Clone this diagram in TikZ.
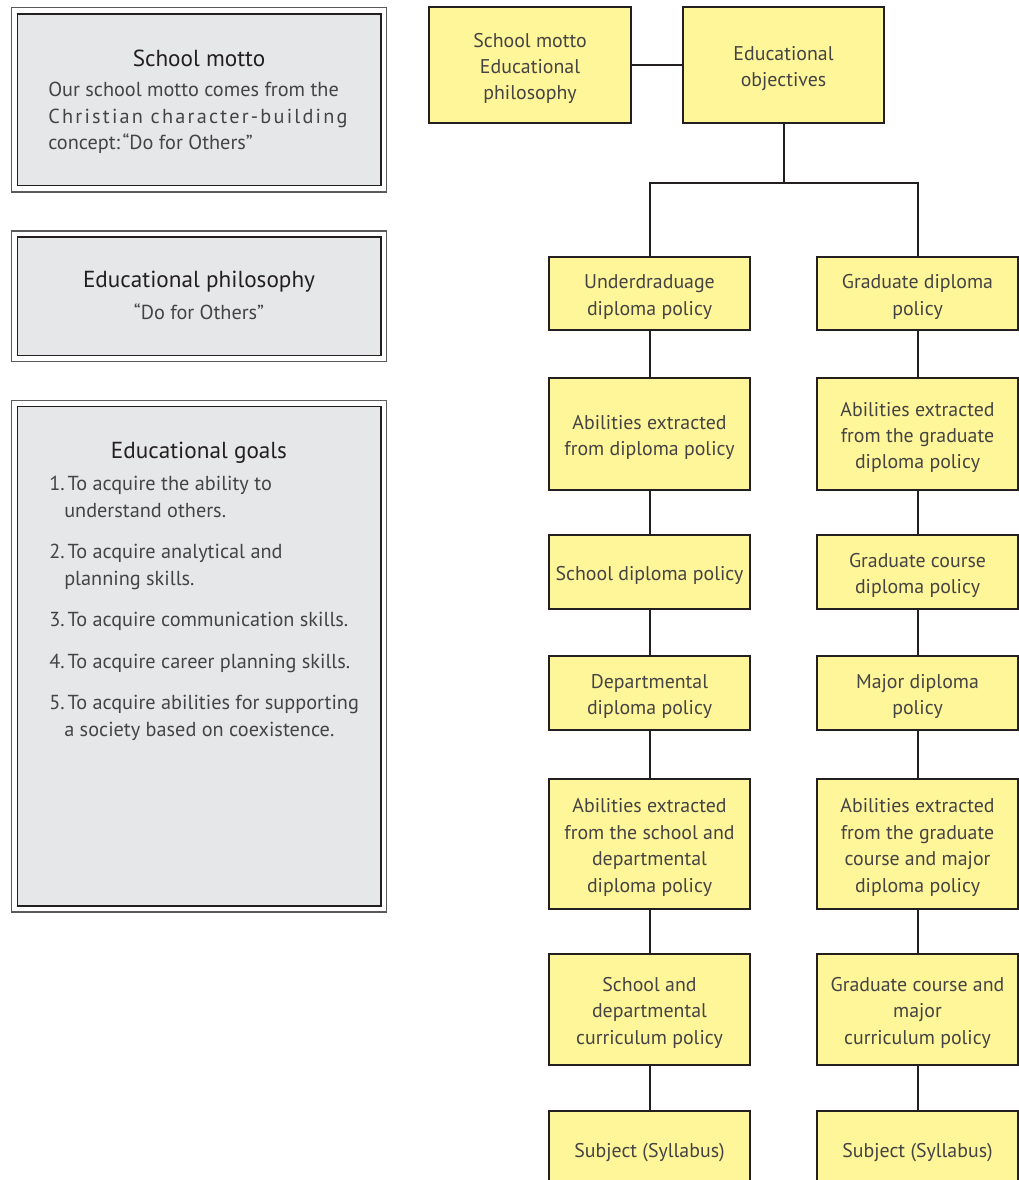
\documentclass[tikz,border=0pt]{standalone}
\usepackage{fontspec}
\setmainfont{PT Sans}
\usetikzlibrary{calc}
\definecolor{yfill}{HTML}{FFF599}
\definecolor{gfill}{HTML}{E6E7E8}
\definecolor{edge}{HTML}{231F20}
\definecolor{txt}{HTML}{444444}
\definecolor{ttl}{HTML}{231F20}
\definecolor{outerg}{HTML}{5A5A5A}
\newcommand\ytext[1]{\raisebox{-2.4pt}[\height][\depth]{\begin{tabular}{@{}c@{}}#1\end{tabular}}}
\begin{document}
\begin{tikzpicture}[x=0.75pt,y=-0.75pt,
  sz/.style 2 args={minimum width={#1*0.75pt}, minimum height={#2*0.75pt}},
  ybox/.style={draw=edge, line width=1.5pt, fill=yfill, text=txt,
    font=\fontsize{14.9}{19.8}\selectfont, inner sep=0pt},
  conn/.style={draw=edge, line width=1.5pt},
  outerframe/.style={draw=outerg, line width=0.8pt},
  innerframe/.style={draw=edge, line width=1.2pt, fill=gfill},
  ttltext/.style={text=ttl, font=\fontsize{17.4}{19.8}\selectfont, inner sep=0pt, anchor=base},
  bodytext/.style={text=txt, font=\fontsize{15.2}{19.8}\selectfont, inner sep=0pt, anchor=base west},
  bodyc/.style={text=txt, font=\fontsize{15.2}{19.8}\selectfont, inner sep=0pt, anchor=base}
]
\useasboundingbox (0,0) rectangle (1019,1180);

% ---- left panels ----
\draw[outerframe] (11.5,7.5) rectangle (386.5,192);
\draw[innerframe] (17.5,14) rectangle (381,185.5);
\node[ttltext] (mt) at (199,66.5) {School motto};
\node[bodytext] (m1) at (48,97) {Our school motto comes from the};
\node[bodytext] (m2) at (48,124) {\addfontfeature{LetterSpace=11}Christian character-building};
\node[bodytext] (m3) at (48,150) {concept:\hspace{0.12em}“Do for Others”};

\draw[outerframe] (11.5,231) rectangle (386.5,361.5);
\draw[innerframe] (17.5,237) rectangle (381,355.5);
\node[ttltext] (pt) at (199,288) {Educational philosophy};
\node[bodyc] (p1) at (199,320) {“Do for Others”};

\draw[outerframe] (11.5,400.5) rectangle (386.5,912);
\draw[innerframe] (17.5,406.5) rectangle (381,906);
\node[ttltext] (gt) at (199,458) {Educational goals};
\node[bodytext] (g1a) at (49,490) {1.\hspace{0.15em}To acquire the ability to};
\node[bodytext] (g1b) at (64,517) {understand others.};
\node[bodytext] (g2a) at (49,558) {2.\hspace{0.15em}To acquire analytical and};
\node[bodytext] (g2b) at (64,585) {planning skills.};
\node[bodytext] (g3) at (49,626) {3.\hspace{0.15em}To acquire communication skills.};
\node[bodytext] (g4) at (49,668) {4.\hspace{0.15em}To acquire career planning skills.};
\node[bodytext] (g5a) at (49,709) {5.\hspace{0.15em}To acquire abilities for supporting};
\node[bodytext] (g5b) at (64,736) {a society based on coexistence.};

% ---- chart ----
\node[ybox, sz={202}{116}] (A) at (530,65) {\ytext{School motto\\Educational\\philosophy}};
\node[ybox, sz={201}{116}] (B) at (783.5,65) {\ytext{Educational\\objectives}};

\node[ybox, sz={201}{73}]  (l1) at (649.5,293.5) {\ytext{Underdraduage\\diploma policy}};
\node[ybox, sz={201}{112}] (l2) at (649.5,434) {\ytext{Abilities extracted\\from diploma policy}};
\node[ybox, sz={201}{74}]  (l3) at (649.5,572) {\ytext{School diploma policy}};
\node[ybox, sz={201}{74}]  (l4) at (649.5,693) {\ytext{Departmental\\diploma policy}};
\node[ybox, sz={201}{130}] (l5) at (649.5,844) {\ytext{Abilities extracted\\from the school and\\departmental\\diploma policy}};
\node[ybox, sz={201}{111}] (l6) at (649.5,1009.5) {\ytext{School and\\departmental\\curriculum policy}};
\node[ybox, sz={201}{76}]  (l7) at (649.5,1149) {\ytext{Subject (Syllabus)}};

\node[ybox, sz={201}{73}]  (r1) at (917.5,293.5) {\ytext{Graduate diploma\\policy}};
\node[ybox, sz={201}{112}] (r2) at (917.5,434) {\ytext{Abilities extracted\\from the graduate\\diploma policy}};
\node[ybox, sz={201}{74}]  (r3) at (917.5,572) {\ytext{Graduate course\\diploma policy}};
\node[ybox, sz={201}{74}]  (r4) at (917.5,693) {\ytext{Major diploma\\policy}};
\node[ybox, sz={201}{130}] (r5) at (917.5,844) {\ytext{Abilities extracted\\from the graduate\\course and major\\diploma policy}};
\node[ybox, sz={201}{111}] (r6) at (917.5,1009.5) {\ytext{Graduate course and\\major\\curriculum policy}};
\node[ybox, sz={201}{76}]  (r7) at (917.5,1149) {\ytext{Subject (Syllabus)}};

\coordinate (j) at (783.5,183);
\draw[conn] (A.east) -- (B.west);
\draw[conn] (B.south) -- (j);
\draw[conn] (l1.north) |- (j) -| (r1.north);
\foreach \a/\b in {1/2,2/3,3/4,4/5,5/6,6/7}{
  \draw[conn] (l\a.south) -- (l\b.north);
  \draw[conn] (r\a.south) -- (r\b.north);
}
\end{tikzpicture}
\end{document}
